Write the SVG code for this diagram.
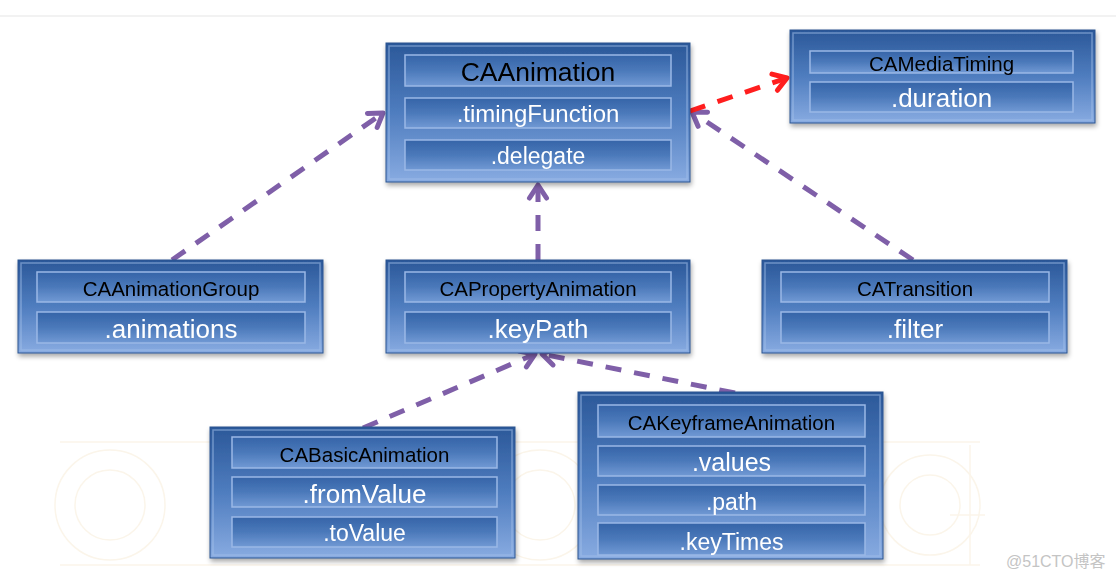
<svg xmlns="http://www.w3.org/2000/svg" width="1116" height="580" viewBox="0 0 1116 580">
<defs>
  <linearGradient id="boxGrad" x1="0" y1="0" x2="0" y2="1">
    <stop offset="0" stop-color="#2b5899"/>
    <stop offset="0.5" stop-color="#4f7dbf"/>
    <stop offset="1" stop-color="#88abe1"/>
  </linearGradient>
  <linearGradient id="rowGrad" x1="0" y1="0" x2="0" y2="1">
    <stop offset="0" stop-color="#3564a8"/>
    <stop offset="0.5" stop-color="#4b79ba"/>
    <stop offset="1" stop-color="#7199d4"/>
  </linearGradient>
  <filter id="shadow" x="-10%" y="-10%" width="125%" height="130%">
    <feGaussianBlur in="SourceAlpha" stdDeviation="2.5"/>
    <feOffset dx="1" dy="3" result="b"/>
    <feComponentTransfer><feFuncA type="linear" slope="0.35"/></feComponentTransfer>
    <feMerge><feMergeNode/><feMergeNode in="SourceGraphic"/></feMerge>
  </filter>
  <marker id="arrP" viewBox="-20 -15 25 30" refX="0" refY="0" markerWidth="25" markerHeight="30" markerUnits="userSpaceOnUse" orient="auto">
    <path d="M-13,-8.5 L0,0 L-13,8.5" fill="none" stroke="#7f5fa8" stroke-width="5" stroke-linecap="round" stroke-linejoin="round" stroke-dasharray="none"/>
  </marker>
  <marker id="arrR" viewBox="-20 -15 25 30" refX="0" refY="0" markerWidth="25" markerHeight="30" markerUnits="userSpaceOnUse" orient="auto">
    <path d="M-13,-8.5 L0,0 L-13,8.5" fill="none" stroke="#ff1e1e" stroke-width="5" stroke-linecap="round" stroke-linejoin="round" stroke-dasharray="none"/>
  </marker>
</defs>
<style>
  .box { fill: url(#boxGrad); stroke: #2a5390; stroke-width: 1; }
  .hl { fill: none; stroke: #a3c0ea; stroke-opacity: 0.55; stroke-width: 1.5; }
  .row { fill: url(#rowGrad); stroke: #9ab8e6; stroke-width: 1.5; }
  .hdr { font-family: "Liberation Sans", Arial, sans-serif; fill: #000; text-anchor: middle; font-size: 20.5px; }
  .prop { font-family: "Liberation Sans", Arial, sans-serif; fill: #fff; text-anchor: middle; font-size: 26px; }
  .conn { fill: none; stroke-width: 5; stroke-dasharray: 16 13; }
  .purple { stroke: #7f5fa8; marker-end: url(#arrP); }
  .red { stroke: #ff1e1e; marker-end: url(#arrR); }
  .deco { fill: none; stroke: #fbf5ea; stroke-width: 1.5; }
</style>
<rect x="0" y="0" width="1116" height="580" fill="#ffffff"/>
<rect x="0" y="15" width="1116" height="2" fill="#f2f2f2"/>

<g id="background-pattern">
  <line class="deco" x1="60" y1="442" x2="980" y2="442"/>
  <line class="deco" x1="60" y1="565" x2="980" y2="565"/>
  <circle class="deco" cx="110" cy="505" r="55"/>
  <circle class="deco" cx="110" cy="505" r="35"/>
  <circle class="deco" cx="540" cy="505" r="55"/>
  <circle class="deco" cx="540" cy="505" r="35"/>
  <circle class="deco" cx="930" cy="505" r="50"/>
  <circle class="deco" cx="930" cy="505" r="30"/>
  <line class="deco" x1="970" y1="445" x2="970" y2="565"/>
  <line class="deco" x1="950" y1="515" x2="985" y2="515"/>
</g>

<g id="connectors">
  <path class="conn purple" d="M172,260 L383,113"/>
  <path class="conn purple" d="M538,260 L538,185"/>
  <path class="conn purple" d="M913,260 L692,112"/>
  <path class="conn red" d="M690,111 L787,78"/>
  <path class="conn purple" d="M363,428 L535,354"/>
  <path class="conn purple" d="M735,393 L542,354"/>
</g>

<g id="node-caanimation" filter="url(#shadow)">
  <rect class="box" x="386" y="43" width="304" height="139"/>
  <rect class="hl" x="389" y="46" width="298" height="133"/>
  <rect class="row" x="405" y="55" width="266" height="31"/>
  <rect class="row" x="405" y="98" width="266" height="30"/>
  <rect class="row" x="405" y="140" width="266" height="30"/>
  <text class="hdr" x="538" y="81" style="font-size:26.5px">CAAnimation</text>
  <text class="prop" x="538" y="122" style="font-size:24px">.timingFunction</text>
  <text class="prop" x="538" y="164" style="font-size:23px">.delegate</text>
</g>

<g id="node-camediatiming" filter="url(#shadow)">
  <rect class="box" x="790" y="30" width="305" height="93"/>
  <rect class="hl" x="793" y="33" width="299" height="87"/>
  <rect class="row" x="810" y="51" width="263" height="22"/>
  <rect class="row" x="810" y="82" width="263" height="30"/>
  <text class="hdr" x="941.5" y="71">CAMediaTiming</text>
  <text class="prop" x="941.5" y="107">.duration</text>
</g>

<g id="node-caanimationgroup" filter="url(#shadow)">
  <rect class="box" x="18" y="260" width="305" height="93"/>
  <rect class="hl" x="21" y="263" width="299" height="87"/>
  <rect class="row" x="37" y="272" width="268" height="30"/>
  <rect class="row" x="37" y="312" width="268" height="31"/>
  <text class="hdr" x="171" y="296">CAAnimationGroup</text>
  <text class="prop" x="171" y="338">.animations</text>
</g>

<g id="node-capropertyanimation" filter="url(#shadow)">
  <rect class="box" x="386" y="260" width="304" height="93"/>
  <rect class="hl" x="389" y="263" width="298" height="87"/>
  <rect class="row" x="405" y="272" width="266" height="30"/>
  <rect class="row" x="405" y="312" width="266" height="31"/>
  <text class="hdr" x="538" y="296">CAPropertyAnimation</text>
  <text class="prop" x="538" y="338">.keyPath</text>
</g>

<g id="node-catransition" filter="url(#shadow)">
  <rect class="box" x="762" y="260" width="305" height="93"/>
  <rect class="hl" x="765" y="263" width="299" height="87"/>
  <rect class="row" x="781" y="272" width="268" height="30"/>
  <rect class="row" x="781" y="312" width="268" height="31"/>
  <text class="hdr" x="915" y="296">CATransition</text>
  <text class="prop" x="915" y="338">.filter</text>
</g>

<g id="node-cabasicanimation" filter="url(#shadow)">
  <rect class="box" x="210" y="427" width="305" height="131"/>
  <rect class="hl" x="213" y="430" width="299" height="125"/>
  <rect class="row" x="232" y="437" width="265" height="31"/>
  <rect class="row" x="232" y="477" width="265" height="30"/>
  <rect class="row" x="232" y="517" width="265" height="30"/>
  <text class="hdr" x="364.5" y="462">CABasicAnimation</text>
  <text class="prop" x="364.5" y="503">.fromValue</text>
  <text class="prop" x="364.5" y="541" style="font-size:23px">.toValue</text>
</g>

<g id="node-cakeyframeanimation" filter="url(#shadow)">
  <rect class="box" x="578" y="392" width="305" height="167"/>
  <rect class="hl" x="581" y="395" width="299" height="161"/>
  <rect class="row" x="598" y="405" width="267" height="32"/>
  <rect class="row" x="598" y="446" width="267" height="30"/>
  <rect class="row" x="598" y="485" width="267" height="30"/>
  <rect class="row" x="598" y="523" width="267" height="32"/>
  <text class="hdr" x="731.5" y="430">CAKeyframeAnimation</text>
  <text class="prop" x="731.5" y="471" style="font-size:25px">.values</text>
  <text class="prop" x="731.5" y="510" style="font-size:23px">.path</text>
  <text class="prop" x="731.5" y="550" style="font-size:23px">.keyTimes</text>
</g>

<text x="1006" y="567" font-family="'Liberation Sans', 'Noto Sans CJK SC', sans-serif" font-size="16" fill="#c4c4c4">@51CTO博客</text>
</svg>
